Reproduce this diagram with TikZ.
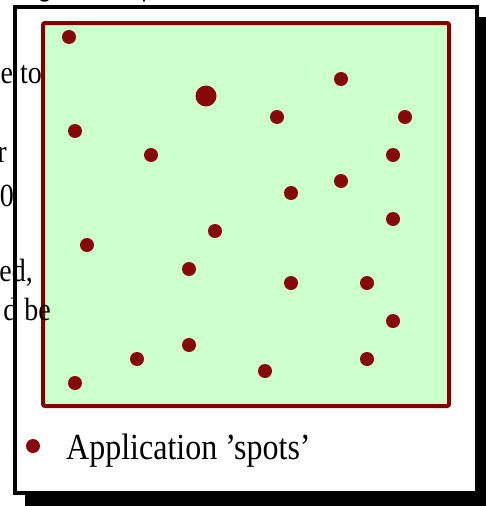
\documentclass[tikz,border=0pt]{standalone}
\usepackage{fontspec}
\setmainfont{Liberation Serif}
\newfontfamily\titlefont{Liberation Sans}
\definecolor{spotred}{RGB}{135,8,8}
\definecolor{borderred}{RGB}{128,0,0}
\definecolor{fieldgreen}{RGB}{204,255,204}
\newcommand{\tallish}[1]{\scalebox{1}[1.15]{#1}}
\begin{document}
\begin{tikzpicture}[x=1pt,y=-1pt,
  spot/.style={circle,fill=spotred,inner sep=0pt,minimum size=14pt},
  bigspot/.style={spot,minimum size=21pt},
  bgtext/.style={anchor=base east,inner sep=0pt,font=\fontsize{28}{30}\selectfont},
  legendtext/.style={anchor=base west,inner sep=0pt,font=\fontsize{32}{36}\selectfont},
  frame/.style={draw=black,line width=4pt,fill=white},
  field/.style={draw=borderred,line width=4pt,fill=fieldgreen,rounded corners=2pt}]
\useasboundingbox (0,0) rectangle (486,506);
% shadow and frame
\fill[black] (25,17) rectangle (492,508);
\draw[frame] (15,6.8) rectangle (477,493);
% field
\draw[field] (43,23) rectangle (449,406);
% spots
\node[spot] (s1) at (69,37) {};
\node[bigspot] (s2) at (206,96) {};
\node[spot] (s3) at (341,79) {};
\node[spot] (s4) at (277,117) {};
\node[spot] (s5) at (405,117) {};
\node[spot] (s6) at (75,131) {};
\node[spot] (s7) at (151,155) {};
\node[spot] (s8) at (393,155) {};
\node[spot] (s9) at (341,181) {};
\node[spot] (s10) at (291,193) {};
\node[spot] (s11) at (393,219) {};
\node[spot] (s12) at (215,231) {};
\node[spot] (s13) at (87,245) {};
\node[spot] (s14) at (189,269) {};
\node[spot] (s15) at (291,283) {};
\node[spot] (s16) at (367,283) {};
\node[spot] (s17) at (393,321) {};
\node[spot] (s18) at (189,345) {};
\node[spot] (s19) at (137,359) {};
\node[spot] (s20) at (367,359) {};
\node[spot] (s21) at (265,371) {};
\node[spot] (s22) at (75,383) {};
% legend
\node[spot] (ls) at (33,446) {};
\node[legendtext] (lt) at (66,459) {\tallish{Application ’spots’}};
% background text fragments
\node[bgtext] (b1) at (42,83) {\tallish{e to}};
\node[bgtext] (b2) at (7,162) {\tallish{r}};
\node[bgtext] (b3) at (14,206) {\tallish{0}};
\node[bgtext] (b4) at (33,281) {\tallish{ed,}};
\node[bgtext] (b5) at (51,320) {\tallish{d be}};
\node[anchor=base west,inner sep=0pt,font=\titlefont\bfseries\fontsize{22}{24}\selectfont] (t1) at (38,-2) {g};
\node[anchor=base west,inner sep=0pt,font=\titlefont\fontsize{22}{24}\selectfont] (t2) at (141.5,-2) {p};
\end{tikzpicture}
\end{document}
